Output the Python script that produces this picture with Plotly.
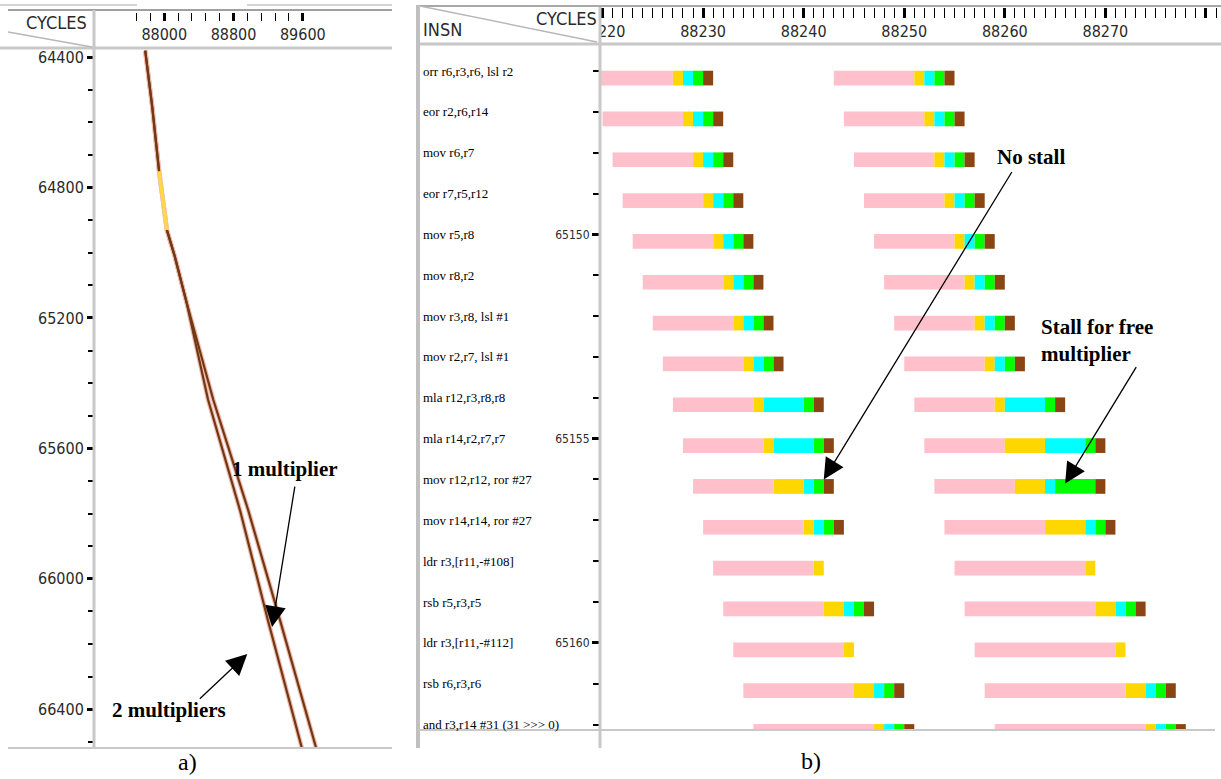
import plotly.graph_objects as go

W, H = 1221, 779

# ---------------- Panel a) data ----------------
A_Y_TICKS = [64400, 64800, 65200, 65600, 66000, 66400]
A_Y_MINOR_STEP = 100
A_X_TICKS = [88000, 88800, 89600]
A_X_MINOR = [87680, 87840, 88160, 88320, 88480, 88640, 88960, 89120, 89280, 89440]
A_SHARED_CYC = [87780, 87860, 87940, 88030, 88120, 88260]
A_SHARED_INSN = [64380, 64550, 64750, 64930, 65010, 65155]
A_SPLIT_INSN = [65155, 65450, 65790, 66130, 66520]
A_2MULT_CYC = [88260, 88505, 88875, 89200, 89590]
A_1MULT_CYC = [88260, 88565, 88970, 89340, 89755]
A_YELLOW_CYC = [87940, 88030]
A_YELLOW_INSN = [64750, 64930]

# ---------------- Panel b) data ----------------
INSN_NUM = [65146, 65147, 65148, 65149, 65150, 65151, 65152, 65153, 65154,
            65155, 65156, 65157, 65158, 65159, 65160, 65161, 65162]
INSN_TEXT = ["orr r6,r3,r6, lsl r2", "eor r2,r6,r14", "mov r6,r7", "eor r7,r5,r12",
             "mov r5,r8", "mov r8,r2", "mov r3,r8, lsl #1", "mov r2,r7, lsl #1",
             "mla r12,r3,r8,r8", "mla r14,r2,r7,r7", "mov r12,r12, ror #27",
             "mov r14,r14, ror #27", "ldr r3,[r11,-#108]", "rsb r5,r3,r5",
             "ldr r3,[r11,-#112]", "rsb r6,r3,r6", "and r3,r14 #31 (31 >>> 0)"]
B_Y_LABELED = [65150, 65155, 65160]

G1_START = [88219, 88220, 88221, 88222, 88223, 88224, 88225, 88226, 88227,
            88228, 88229, 88230, 88231, 88232, 88233, 88234, 88235]
G1_PINK = [8, 8, 8, 8, 8, 8, 8, 8, 8, 8, 8, 10, 10, 10, 11, 11, 12]
G1_YELLOW = [1, 1, 1, 1, 1, 1, 1, 1, 1, 1, 3, 1, 1, 2, 1, 2, 1]
G1_CYAN = [1, 1, 1, 1, 1, 1, 1, 1, 4, 4, 1, 1, 0, 1, 0, 1, 1]
G1_GREEN = [1, 1, 1, 1, 1, 1, 1, 1, 1, 1, 1, 1, 0, 1, 0, 1, 1]
G1_BROWN = [1, 1, 1, 1, 1, 1, 1, 1, 1, 1, 1, 1, 0, 1, 0, 1, 1]

G2_START = [88243, 88244, 88245, 88246, 88247, 88248, 88249, 88250, 88251,
            88252, 88253, 88254, 88255, 88256, 88257, 88258, 88259]
G2_PINK = [8, 8, 8, 8, 8, 8, 8, 8, 8, 8, 8, 10, 13, 13, 14, 14, 15]
G2_YELLOW = [1, 1, 1, 1, 1, 1, 1, 1, 1, 4, 3, 4, 1, 2, 1, 2, 1]
G2_CYAN = [1, 1, 1, 1, 1, 1, 1, 1, 4, 4, 1, 1, 0, 1, 0, 1, 1]
G2_GREEN = [1, 1, 1, 1, 1, 1, 1, 1, 1, 1, 4, 1, 0, 1, 0, 1, 1]
G2_BROWN = [1, 1, 1, 1, 1, 1, 1, 1, 1, 1, 1, 1, 0, 1, 0, 1, 1]

STAGE_COLORS = ["#FFC0CB", "#FFD700", "#00FFFF", "#00FF00", "#8B4513"]


def px(x):
    return x / W


def py(y):
    return 1 - y / H


NARROW = "DejaVu Sans Condensed, Liberation Sans Narrow, sans-serif"
SERIF = "Liberation Serif, Times New Roman, serif"
AX_FONT = dict(family=NARROW, size=16, color="#2a2a2a")

fig = go.Figure()

# ---- panel a lines ----
line_2 = (A_SHARED_CYC + A_2MULT_CYC[1:], A_SHARED_INSN + A_SPLIT_INSN[1:])
line_1 = (A_SHARED_CYC + A_1MULT_CYC[1:], A_SHARED_INSN + A_SPLIT_INSN[1:])
for xs, ys in (line_2, line_1):
    fig.add_trace(go.Scatter(x=xs, y=ys, mode="lines", xaxis="x", yaxis="y",
                             line=dict(color="#F4B8B0", width=4.5), showlegend=False,
                             hoverinfo="skip"))
for xs, ys in (line_2, line_1):
    fig.add_trace(go.Scatter(x=xs, y=ys, mode="lines", xaxis="x", yaxis="y",
                             line=dict(color="#6E3A12", width=2.2), showlegend=False))
fig.add_trace(go.Scatter(x=A_YELLOW_CYC, y=A_YELLOW_INSN, mode="lines", xaxis="x", yaxis="y",
                         line=dict(color="#FFD84A", width=3.5), showlegend=False))

# ---- panel b bars ----
stage_lists = [
    (G1_START, [G1_PINK, G1_YELLOW, G1_CYAN, G1_GREEN, G1_BROWN]),
    (G2_START, [G2_PINK, G2_YELLOW, G2_CYAN, G2_GREEN, G2_BROWN]),
]
for s_idx, color in enumerate(STAGE_COLORS):
    ys, bases, lens = [], [], []
    for starts, stages in stage_lists:
        for r, row in enumerate(INSN_NUM):
            b = starts[r] + sum(stages[k][r] for k in range(s_idx))
            l = stages[s_idx][r]
            if l > 0:
                ys.append(row)
                bases.append(b)
                lens.append(l)
    fig.add_trace(go.Bar(x=lens, y=ys, base=bases, orientation="h", xaxis="x2", yaxis="y2",
                         marker=dict(color=color, line=dict(width=0)), width=0.36,
                         offset=-0.01, showlegend=False))

fig.update_layout(
    template="none",
    width=W, height=H, margin=dict(l=0, r=0, t=0, b=0, autoexpand=False),
    paper_bgcolor="white", plot_bgcolor="white", barmode="overlay",
    xaxis=dict(domain=[px(95), px(392)], range=[87200, 90630], anchor="free",
               position=py(12), side="bottom", showgrid=False, zeroline=False,
               showline=False, automargin=False, tickmode="array", tickvals=A_X_TICKS,
               ticktext=[str(v) for v in A_X_TICKS], ticks="outside", ticklen=8,
               tickwidth=2.5, tickcolor="black",
               minor=dict(tickmode="array", tickvals=A_X_MINOR, ticks="outside",
                          ticklen=8, tickwidth=1, tickcolor="black"),
               tickfont=AX_FONT),
    yaxis=dict(domain=[py(748), py(48)], range=[66519, 64372], anchor="x",
               showgrid=False, zeroline=False, showline=False, automargin=False,
               tickmode="array", tickvals=A_Y_TICKS, ticktext=[str(v) for v in A_Y_TICKS],
               ticks="outside", ticklen=7, tickwidth=2.5, tickcolor="black",
               minor=dict(dtick=A_Y_MINOR_STEP, tick0=A_Y_TICKS[0], ticks="outside",
                          ticklen=6, tickwidth=1.5, tickcolor="black"),
               tickfont=AX_FONT),
    xaxis2=dict(domain=[px(600), px(1216)], range=[88219.75, 88281.0], anchor="free",
                position=py(7), side="bottom", showgrid=False, zeroline=False,
                showline=False, automargin=False, tickmode="linear", tick0=88220, dtick=10,
                tickformat="d",
                ticks="outside", ticklen=10, tickwidth=2.5, tickcolor="black",
                minor=dict(dtick=1, tick0=88220, ticks="outside", ticklen=10,
                           tickwidth=1, tickcolor="black"),
                tickfont=AX_FONT),
    yaxis2=dict(domain=[py(729), py(45)], range=[65162.11, 65145.36], anchor="x2",
                showgrid=False, zeroline=False, showline=False, automargin=False,
                tickmode="array", tickvals=B_Y_LABELED,
                ticktext=[str(v) for v in B_Y_LABELED], ticks="outside", ticklen=7,
                tickwidth=2.5, tickcolor="black",
                minor=dict(tickmode="array", tickvals=INSN_NUM, ticks="outside",
                           ticklen=6, tickwidth=1.5, tickcolor="black"),
                tickfont=dict(family=NARROW, size=12, color="#2a2a2a")),
)


def hline(x0, x1, y, color, w):
    return dict(type="line", xref="paper", yref="paper", x0=px(x0), x1=px(x1),
                y0=py(y), y1=py(y), line=dict(color=color, width=w), layer="above")


def vline(x, y0, y1, color, w):
    return dict(type="line", xref="paper", yref="paper", x0=px(x), x1=px(x),
                y0=py(y0), y1=py(y1), line=dict(color=color, width=w), layer="above")


shapes = [
    # panel a frame
    hline(0, 137, 5, "#d4d4d4", 2), hline(247, 392, 5, "#d4d4d4", 2),
    hline(8, 392, 10, "#a0a0a0", 2),
    hline(0, 392, 48, "#c8c8c8", 3),
    vline(94, 10, 748, "#c8c8c8", 3),
    dict(type="line", xref="paper", yref="paper", x0=px(8), y0=py(32), x1=px(92), y1=py(47),
         line=dict(color="#b8b8b8", width=1.5), layer="above"),
    hline(8, 392, 748, "#c8c8c8", 2),
    # panel b frame
    dict(type="rect", xref="paper", yref="paper", x0=px(420), x1=px(599), y0=py(42), y1=py(8),
         fillcolor="white", line=dict(width=0), layer="above"),
    hline(418, 1221, 6, "#a8a8a8", 2),
    hline(418, 1221, 44, "#c8c8c8", 3),
    vline(418, 5, 748, "#c0c0c0", 4),
    vline(600, 7, 748, "#c8c8c8", 3),
    dict(type="line", xref="paper", yref="paper", x0=px(420), y0=py(6), x1=px(597), y1=py(42),
         line=dict(color="#b8b8b8", width=1.5), layer="above"),
    hline(418, 1215, 730, "#c8c8c8", 2),
]
fig.update_layout(shapes=shapes)


def label(x, y, text, font, xanchor="center", align="center"):
    return dict(xref="paper", yref="paper", x=px(x), y=py(y), text=text, showarrow=False,
                xanchor=xanchor, yanchor="middle", align=align, font=font)


HDR_FONT = dict(family=NARROW, size=18, color="#2a2a2a")
ann = []
# header texts
ann.append(label(56, 22, "CYCLES", HDR_FONT))
ann.append(label(566, 18, "CYCLES", HDR_FONT))
ann.append(label(421, 30, "INSN", HDR_FONT, xanchor="left"))
# instruction labels
for row, txt in zip(INSN_NUM, INSN_TEXT):
    ann.append(dict(xref="paper", yref="y2", x=px(421), y=row, text=txt, showarrow=False,
                    xanchor="left", yanchor="middle",
                    font=dict(family=SERIF, size=13, color="black")))

ARROW = dict(showarrow=True, arrowhead=2, arrowsize=3.2, arrowwidth=1.3, arrowcolor="black",
             text="", axref="pixel", ayref="pixel")
# panel b arrows
ann.append(dict(xref="x2", yref="y2", x=88242, y=65156, ax=189, ay=-309, **ARROW))
ann.append(dict(xref="x2", yref="y2", x=88266, y=65156.1, ax=72, ay=-118, **ARROW))
# panel a arrows
ann.append(dict(xref="x", yref="y", x=89245, y=66148, ax=23, ay=-142, **ARROW))
ann.append(dict(xref="x", yref="y", x=88959, y=66231, ax=-49, ay=46, **ARROW))

BOLD = dict(family=SERIF, size=21, color="black")
ann.append(label(1031, 157, "<b>No stall</b>", BOLD))
ann.append(label(1039, 340, "<b>Stall for free</b><br><b>multiplier</b>", BOLD,
                 xanchor="left", align="left"))
ann.append(label(285, 469, "<b>1 multiplier</b>", BOLD))
ann.append(label(169, 710, "<b>2 multipliers</b>", BOLD))
# captions
CAP = dict(family=SERIF, size=24, color="black")
ann.append(label(187, 762, "a)", CAP))
ann.append(label(811, 761, "b)", CAP))
fig.update_layout(annotations=ann)

fig.write_html("out.html")
